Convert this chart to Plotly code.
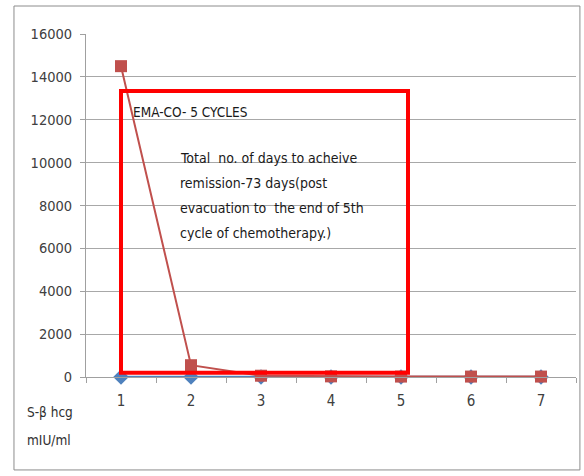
import plotly.graph_objects as go

categories = ["1", "2", "3", "4", "5", "6", "7"]
red_values = [14500, 550, 60, 30, 20, 20, 20]
blue_values = [0, 0, 0, 0, 0, 0, 0]
y_ticks = [0, 2000, 4000, 6000, 8000, 10000, 12000, 14000, 16000]
y_tick_labels = [str(v) for v in y_ticks]

FONT = "Liberation Sans Narrow, DejaVu Sans Condensed, sans-serif"
TICKFONT = "Liberation Sans Narrow, DejaVu Sans Condensed, sans-serif"

fig = go.Figure()
fig.add_trace(go.Scatter(x=categories, y=blue_values, mode="lines+markers",
                         line=dict(color="#4F81BD", width=2.5),
                         marker=dict(symbol="diamond", size=12, color="#4F81BD"),
                         showlegend=False, cliponaxis=False))
fig.add_trace(go.Scatter(x=categories, y=red_values, mode="lines+markers",
                         line=dict(color="#C0504D", width=2),
                         marker=dict(symbol="square", size=12, color="#C0504D"),
                         showlegend=False, cliponaxis=False))

# red box
fig.add_shape(type="rect", xref="x", yref="y", x0=0, x1=4.1, y0=200, y1=13340,
              line=dict(color="#FF0000", width=4), fillcolor="rgba(0,0,0,0)", layer="above")
# outer border
fig.add_shape(type="rect", xref="paper", yref="paper", x0=-0.147, x1=1.008, y0=-0.271, y1=1.0816,
              line=dict(color="#8C8C8C", width=1))

fig.add_annotation(xref="paper", yref="paper", x=(131 - 86) / 490, y=(377 - 112) / 343,
                   xanchor="left", yanchor="middle",
                   text="EMA-CO- 5 CYCLES", showarrow=False, font=dict(family=FONT, size=13.5, color="#1A1A1A"))
para = ["Total  no. of days to acheive", "remission-73 days(post",
        "evacuation to  the end of 5th", "cycle of chemotherapy.)"]
for i, line in enumerate(para):
    ypix = 158 + 25 * i
    fig.add_annotation(xref="paper", yref="paper", x=(178 - 86) / 490, y=(377 - ypix) / 343,
                       xanchor="left", yanchor="middle", text=line, showarrow=False,
                       font=dict(family=FONT, size=14, color="#1A1A1A"))

fig.add_annotation(xref="paper", yref="paper", x=(25 - 86) / 490, y=(377 - 412) / 343,
                   xanchor="left", yanchor="middle", text="S-β hcg", showarrow=False,
                   font=dict(family=FONT, size=13.5, color="#303030"))
fig.add_annotation(xref="paper", yref="paper", x=(25 - 86) / 490, y=(377 - 440) / 343,
                   xanchor="left", yanchor="middle", text="mIU/ml", showarrow=False,
                   font=dict(family=FONT, size=13.5, color="#303030"))

fig.update_layout(
    width=584, height=476,
    margin=dict(l=86, r=8, t=34, b=99),
    plot_bgcolor="white", paper_bgcolor="white",
    font=dict(family=FONT, size=14, color="#404040"),
    xaxis=dict(type="category", range=[-0.5, 6.5], tickson="boundaries", ticks="outside",
               ticklen=5, tickcolor="#A0A0A0", showline=True, linecolor="#A0A0A0",
               showgrid=False, tickfont=dict(family=TICKFONT, size=15), ticklabelstandoff=10),
    yaxis=dict(range=[0, 16000], tickvals=y_ticks, ticktext=y_tick_labels, ticks="outside", ticklen=5,
               tickcolor="#A0A0A0", showline=True, linecolor="#A0A0A0",
               showgrid=True, gridcolor="#A8A8A8", gridwidth=1, zeroline=False,
               tickfont=dict(family=TICKFONT, size=14.5), ticklabelstandoff=5),
)

fig.write_html("out.html", config={"displayModeBar": False},
               post_script="document.body.style.margin='0';")
